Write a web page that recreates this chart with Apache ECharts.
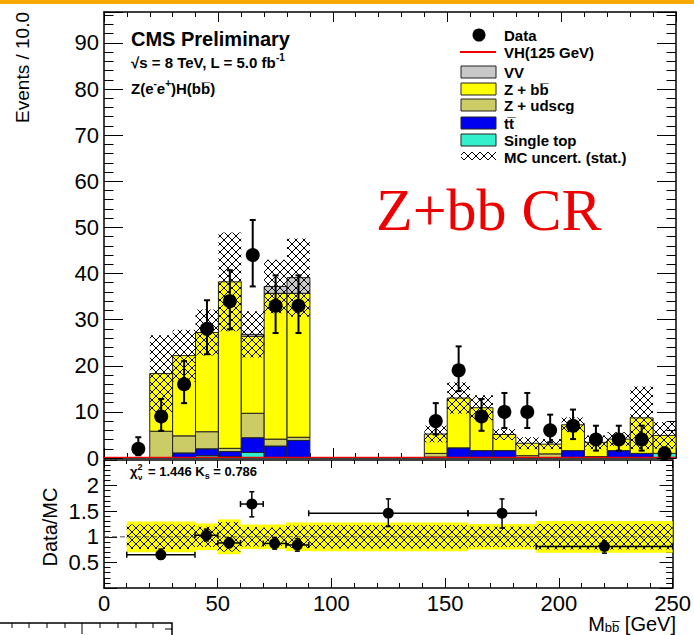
<!DOCTYPE html>
<html><head><meta charset="utf-8">
<script src="https://cdn.jsdelivr.net/npm/echarts@6/dist/echarts.min.js"></script>
<style>html,body{margin:0;padding:0;background:#fff}#c{width:694px;height:635px}</style>
</head><body><div id="c"></div>
<script>
// ---------------- DATA ----------------
const binWidth = 10;
const binLow    = [20, 30, 40, 50, 60, 70, 80, 140, 150, 160, 170, 180, 190, 200, 210, 220, 230, 240];
const singleTop = [0, 0, 0.5, 0.3, 1.2, 0, 0, 0, 0, 0, 0, 0, 0, 0, 0, 0, 0, 1.0];
const ttbar     = [0, 1.1, 1.5, 1.1, 3.2, 2.6, 3.8, 0.2, 2.2, 1.6, 1.6, 0.1, 0, 1.6, 0.1, 1.6, 1.0, 0];
const zudscg    = [5.8, 3.7, 3.7, 0.7, 5.3, 1.5, 0.7, 0.8, 0, 0, 0, 0.4, 0.9, 0, 0.2, 0, 0, 0];
const zbb       = [12.5, 17.4, 21.5, 36.1, 16.7, 31.6, 31.2, 4.2, 10.8, 9.3, 3.5, 2.7, 2.1, 5.6, 3.1, 2.5, 7.7, 3.9];
const vv        = [0, 0, 0, 0, 0.4, 1.5, 3.4, 0, 0, 0, 0, 0, 0, 0, 0, 0, 0, 0];
const mcStatErr = [8.3, 5.6, 5.0, 10.7, 5.0, 5.8, 8.5, 1.8, 3.4, 2.7, 1.2, 1.3, 1.1, 1.6, 1.5, 1.5, 6.8, 2.9];

const vhLow     = [0, 10, 20, 30, 40, 50, 60, 70, 80, 90, 100, 110, 120, 130, 140, 150, 160, 170, 180, 190, 200, 210, 220, 230, 240];
const vhSignal  = [0.05, 0.05, 0.05, 0.05, 0.05, 0.05, 0.05, 0.05, 0.05, 0.05, 0.05, 0.05, 0.05, 0.05, 0.05, 0.05, 0.05, 0.05, 0.05, 0.05, 0.05, 0.05, 0.05, 0.05, 0.05];

const dataX  = [15, 25, 35, 45, 55, 65, 75, 85, 145, 155, 165, 175, 185, 195, 205, 215, 225, 235, 245];
const dataY  = [2, 9, 16, 28, 34, 44, 33, 33, 8, 19, 9, 10, 10, 6, 7, 4, 4, 4, 1];
const dataLo = [0.6, 5.9, 11.9, 22.5, 27.9, 37.2, 27.1, 27.1, 5.1, 14.5, 5.9, 6.5, 6.5, 3.4, 4.1, 1.6, 1.6, 1.6, 0.2];
const dataHi = [4.5, 12.8, 21.0, 34.2, 40.7, 51.6, 39.6, 39.6, 11.9, 24.2, 12.8, 14.1, 14.1, 9.4, 10.5, 7.0, 7.0, 7.0, 2.3];

const ratioLow  = [10, 40, 50, 60, 70, 80, 90, 160, 190];
const ratioHigh = [40, 50, 60, 70, 80, 90, 160, 190, 250];
const ratioX    = [25, 45, 55, 65, 75, 85, 125, 175, 220];
const ratioY    = [0.65, 1.03, 0.88, 1.64, 0.87, 0.84, 1.46, 1.46, 0.81];
const ratioLo   = [0.56, 0.92, 0.79, 1.39, 0.76, 0.72, 1.20, 1.17, 0.68];
const ratioHi   = [0.76, 1.15, 0.98, 1.88, 0.98, 0.96, 1.74, 1.74, 0.92];
const bandTot   = [0.30, 0.26, 0.34, 0.24, 0.24, 0.28, 0.28, 0.25, 0.31];
const bandStat  = [0.24, 0.20, 0.29, 0.19, 0.18, 0.22, 0.23, 0.20, 0.25];

const yTicksMain  = [0, 10, 20, 30, 40, 50, 60, 70, 80, 90];
const yTicksRatio = [0.5, 1, 1.5, 2];

// ---------------- STYLE ----------------
const FONT = "'Liberation Sans', Arial, Helvetica, sans-serif";
const stackColors = ['#33f0cc', '#0000f0', '#cccc66', '#ffff00', '#c8c8c8'];

function makeHatch() {
  const c = document.createElement('canvas');
  c.width = 8; c.height = 8;
  const g = c.getContext('2d');
  g.strokeStyle = '#000'; g.lineWidth = 1;
  g.beginPath();
  g.moveTo(0, 0); g.lineTo(8, 8);
  g.moveTo(8, 0); g.lineTo(0, 8);
  g.stroke();
  return c;
}
const hatch = { image: makeHatch(), repeat: 'repeat', imageWidth: 8, imageHeight: 8 };

// ---------------- BUILD ----------------
const stackData = binLow.map((x0, i) => [x0, x0 + binWidth, singleTop[i], ttbar[i], zudscg[i], zbb[i], vv[i]]);
const totals = binLow.map((x0, i) => singleTop[i] + ttbar[i] + zudscg[i] + zbb[i] + vv[i]);
const hatchData = binLow.map((x0, i) => [x0, x0 + binWidth, totals[i] - mcStatErr[i], totals[i] + mcStatErr[i]]);
const vhData = vhLow.map((x0, i) => [x0, x0 + binWidth, vhSignal[i]]);
const errData = dataX.map((x, i) => [x, dataLo[i], dataHi[i]]);
const ptData = dataX.map((x, i) => [x, dataY[i]]);
const bandYData = ratioLow.map((x0, i) => [x0, ratioHigh[i], 1 - bandTot[i], 1 + bandTot[i]]);
const bandHData = ratioLow.map((x0, i) => [x0, ratioHigh[i], 1 - bandStat[i], 1 + bandStat[i]]);
const rErrData = ratioX.map((x, i) => [x, ratioY[i], ratioLow[i], ratioHigh[i], ratioLo[i], ratioHi[i]]);
const rPtData = ratioX.map((x, i) => [x, ratioY[i]]);

function renderStack(params, api) {
  const x0 = api.value(0), x1 = api.value(1);
  let base = 0; const children = [];
  for (let k = 0; k < 5; k++) {
    const v = api.value(2 + k);
    if (v <= 0) continue;
    const p0 = api.coord([x0, base]), p1 = api.coord([x1, base + v]);
    children.push({ type: 'rect', shape: { x: p0[0], y: p1[1], width: p1[0] - p0[0], height: p0[1] - p1[1] },
      style: { fill: stackColors[k], stroke: '#222', lineWidth: 1 } });
    base += v;
  }
  return { type: 'group', children };
}
function renderBox(fill, stroke) {
  return function (params, api) {
    const p0 = api.coord([api.value(0), api.value(2)]), p1 = api.coord([api.value(1), api.value(3)]);
    return { type: 'rect', shape: { x: p0[0], y: p1[1], width: p1[0] - p0[0], height: p0[1] - p1[1] },
      style: { fill: fill, stroke: stroke || null, lineWidth: 0 } };
  };
}
function renderVH(params, api) {
  const p0 = api.coord([api.value(0), api.value(2)]), p1 = api.coord([api.value(1), api.value(2)]);
  return { type: 'line', shape: { x1: p0[0], y1: p0[1], x2: p1[0], y2: p1[1] }, style: { stroke: '#ee0000', lineWidth: 2 } };
}
function renderErr(params, api) {
  const pl = api.coord([api.value(0), api.value(1)]), ph = api.coord([api.value(0), api.value(2)]);
  const st = { stroke: '#000', lineWidth: 2 };
  return { type: 'group', children: [
    { type: 'line', shape: { x1: pl[0], y1: pl[1], x2: ph[0], y2: ph[1] }, style: st },
    { type: 'line', shape: { x1: ph[0] - 3, y1: ph[1], x2: ph[0] + 3, y2: ph[1] }, style: st },
    { type: 'line', shape: { x1: pl[0] - 3, y1: pl[1], x2: pl[0] + 3, y2: pl[1] }, style: st }
  ] };
}
function renderRErr(params, api) {
  const x = api.value(0), y = api.value(1);
  const a = api.coord([api.value(2), y]), b = api.coord([api.value(3), y]);
  const l = api.coord([x, api.value(4)]), h = api.coord([x, api.value(5)]);
  const st = { stroke: '#000', lineWidth: 1.5 };
  return { type: 'group', children: [
    { type: 'line', shape: { x1: a[0], y1: a[1], x2: b[0], y2: b[1] }, style: st },
    { type: 'line', shape: { x1: a[0], y1: a[1] - 3, x2: a[0], y2: a[1] + 3 }, style: st },
    { type: 'line', shape: { x1: b[0], y1: b[1] - 3, x2: b[0], y2: b[1] + 3 }, style: st },
    { type: 'line', shape: { x1: l[0], y1: l[1], x2: h[0], y2: h[1] }, style: st },
    { type: 'line', shape: { x1: h[0] - 2.5, y1: h[1], x2: h[0] + 2.5, y2: h[1] }, style: st },
    { type: 'line', shape: { x1: l[0] - 2.5, y1: l[1], x2: l[0] + 2.5, y2: l[1] }, style: st }
  ] };
}
function renderOne(params, api) {
  const a = api.coord([0, 1]), b = api.coord([250, 1]);
  return { type: 'line', shape: { x1: a[0], y1: a[1], x2: b[0], y2: b[1] }, style: { stroke: '#555', lineWidth: 1, lineDash: [5, 3] } };
}

const axLine = { show: true, onZero: false, lineStyle: { color: '#000', width: 1.5 } };
function xAx(grid, pos, labels, tl) {
  return { gridIndex: grid, type: 'value', position: pos, min: 0, max: 250, interval: 50,
    axisLine: axLine, splitLine: { show: false },
    axisTick: { show: true, inside: true, length: tl, lineStyle: { color: '#000', width: 1 } },
    minorTick: { show: true, splitNumber: 5, length: tl / 2, lineStyle: { color: '#000', width: 1 } },
    axisLabel: { show: labels, color: '#000', fontSize: 22, lineHeight: 20, fontFamily: FONT, margin: 5 } };
}
function yAx(grid, pos, min, max, interval, labelSet, tl) {
  return { gridIndex: grid, type: 'value', position: pos, min, max, interval,
    axisLine: axLine, splitLine: { show: false },
    axisTick: { show: true, inside: true, length: tl, lineStyle: { color: '#000', width: 1 } },
    minorTick: { show: true, splitNumber: 5, length: tl / 2, lineStyle: { color: '#000', width: 1 } },
    axisLabel: { show: !!labelSet, color: '#000', fontSize: 22, fontFamily: FONT, margin: 5,
      showMinLabel: true, showMaxLabel: true,
      formatter: function (v) { return labelSet && labelSet.some(t => Math.abs(t - v) < 1e-6) ? String(v) : ''; } } };
}

function T(x, y, text, st, extra) {
  return Object.assign({ type: 'text', x, y, silent: true, z: 100,
    style: Object.assign({ text, fill: '#000', fontFamily: FONT, fontSize: 15, fontWeight: 'bold', align: 'left', verticalAlign: 'middle' }, st || {}) }, extra || {});
}
const B = 'b\u0305';
const legendBoxes = [
  { y: 72, fill: stackColors[4], label: 'VV' },
  { y: 89, fill: stackColors[3], label: 'Z + b' + B },
  { y: 105, fill: stackColors[2], label: 'Z + udscg' },
  { y: 123, fill: stackColors[1], label: 't' + 't\u0305' },
  { y: 140, fill: stackColors[0], label: 'Single top' }
];
const graphics = [
  { type: 'rect', shape: { x: 0, y: 0, width: 694, height: 4 }, style: { fill: '#f5a800' }, silent: true },
  // legend
  { type: 'circle', shape: { cx: 479, cy: 35, r: 6.5 }, style: { fill: '#000' }, z: 100 },
  T(504, 35, 'Data'),
  { type: 'line', shape: { x1: 460, y1: 52, x2: 496, y2: 52 }, style: { stroke: '#ee0000', lineWidth: 2 }, z: 100 },
  T(504, 52, 'VH(125 GeV)'),
  { type: 'rect', shape: { x: 461, y: 152, width: 35, height: 8 }, style: { fill: hatch }, z: 100 },
  T(504, 157, 'MC uncert. (stat.)'),
  // header
  T(131, 39, 'CMS Preliminary', { fontSize: 20 }),
  T(131, 62, '{a|√s = 8 TeV, L = 5.0 fb}{s|-1}', { rich: {
    a: { fontSize: 15, fontWeight: 'bold', fontFamily: FONT, lineHeight: 20 },
    s: { fontSize: 10, fontWeight: 'bold', fontFamily: FONT, lineHeight: 11, verticalAlign: 'top' } } }),
  T(131, 88, '{a|Z(e}{s|-}{a|e}{s|+}{a|)H(b}{a|' + B + '}{a|)}', { rich: {
    a: { fontSize: 15, fontWeight: 'bold', fontFamily: FONT, lineHeight: 20 },
    s: { fontSize: 10, fontWeight: 'bold', fontFamily: FONT, lineHeight: 11, verticalAlign: 'top' } } }),
  T(376, 210, 'Z+bb CR', { fontFamily: "'Liberation Serif', 'Times New Roman', serif", fontWeight: 'normal', fontSize: 60, fill: '#ee0000' }),
  // ratio text
  T(130, 471, '{a|χ}{s|2}', { rich: {
    a: { fontSize: 13, fontWeight: 'bold', fontFamily: FONT, lineHeight: 18 },
    s: { fontSize: 9, fontWeight: 'bold', fontFamily: FONT, lineHeight: 10, verticalAlign: 'top' } } }),
  T(138, 477, 'ν', { fontSize: 8 }),
  T(148, 471, '{a|= 1.446 K}{s|s}{a| = 0.786}', { rich: {
    a: { fontSize: 13, fontWeight: 'bold', fontFamily: FONT, lineHeight: 18 },
    s: { fontSize: 9, fontWeight: 'bold', fontFamily: FONT, lineHeight: 10, verticalAlign: 'bottom' } } }),
  // axis titles
  T(22, 12, 'Events / 10.0', { fontSize: 19, fontWeight: 'normal', align: 'right' }, { rotation: Math.PI / 2 }),
  T(50, 527, 'Data/MC', { fontSize: 20, fontWeight: 'normal', align: 'center' }, { rotation: Math.PI / 2 }),
  T(676, 624, '{a|M}{s|b' + B + '}{a| [GeV]}', { align: 'right', rich: {
    a: { fontSize: 20, fontFamily: FONT, lineHeight: 20 },
    s: { fontSize: 13, fontFamily: FONT, lineHeight: 10, verticalAlign: 'bottom' } } }),
  // cut-off ruler at bottom-left
  { type: 'polyline', shape: { points: [[0, 623], [172, 623], [172, 635]] }, style: { stroke: '#000', lineWidth: 1.5, fill: null }, silent: true }
];
legendBoxes.forEach(b => {
  graphics.push({ type: 'rect', shape: { x: 461, y: b.y - 6, width: 35, height: 12 }, style: { fill: b.fill, stroke: '#222', lineWidth: 1 }, z: 100 });
  graphics.push(T(504, b.y, b.label));
});
[12, 29, 47, 65, 100, 118, 136, 153].forEach(x => graphics.push({ type: 'line', shape: { x1: x, y1: 623, x2: x, y2: 628 }, style: { stroke: '#000', lineWidth: 1 }, silent: true }));
graphics.push({ type: 'line', shape: { x1: 82, y1: 623, x2: 82, y2: 634 }, style: { stroke: '#000', lineWidth: 1 }, silent: true });
graphics.push({ type: 'line', shape: { x1: 165, y1: 629, x2: 172, y2: 629 }, style: { stroke: '#000', lineWidth: 1 }, silent: true });

const option = {
  animation: false,
  backgroundColor: '#fff',
  textStyle: { fontFamily: FONT },
  grid: [
    { left: 104, right: 18, top: 12, height: 446 },
    { left: 104, right: 18, top: 460, height: 128 }
  ],
  xAxis: [xAx(0, 'bottom', false, 10), xAx(0, 'top', false, 10), xAx(1, 'bottom', true, 10), xAx(1, 'top', false, 8)],
  yAxis: [yAx(0, 'left', 0, 96.7, 10, yTicksMain, 19), yAx(0, 'right', 0, 96.7, 10, null, 19),
          yAx(1, 'left', 0, 2.5, 0.5, yTicksRatio, 13), yAx(1, 'right', 0, 2.5, 0.5, null, 13)],
  graphic: graphics,
  series: [
    { type: 'custom', name: 'stack', xAxisIndex: 0, yAxisIndex: 0, clip: true, z: 2, renderItem: renderStack, data: stackData },
    { type: 'custom', name: 'mcerr', xAxisIndex: 0, yAxisIndex: 0, clip: true, z: 3, renderItem: renderBox(hatch), data: hatchData },
    { type: 'custom', name: 'vh', xAxisIndex: 0, yAxisIndex: 0, clip: true, z: 4, renderItem: renderVH, data: vhData },
    { type: 'custom', name: 'derr', xAxisIndex: 0, yAxisIndex: 0, clip: true, z: 5, renderItem: renderErr, data: errData },
    { type: 'scatter', name: 'data', xAxisIndex: 0, yAxisIndex: 0, z: 6, symbol: 'circle', symbolSize: 14, itemStyle: { color: '#000', opacity: 1 }, data: ptData },
    { type: 'custom', name: 'bandY', xAxisIndex: 2, yAxisIndex: 2, clip: true, z: 2, renderItem: renderBox('#ffff00'), data: bandYData },
    { type: 'custom', name: 'bandH', xAxisIndex: 2, yAxisIndex: 2, clip: true, z: 3, renderItem: renderBox(hatch), data: bandHData },
    { type: 'custom', name: 'one', xAxisIndex: 2, yAxisIndex: 2, clip: true, z: 4, renderItem: renderOne, data: [[0, 1]] },
    { type: 'custom', name: 'rerr', xAxisIndex: 2, yAxisIndex: 2, clip: true, z: 5, renderItem: renderRErr, data: rErrData },
    { type: 'scatter', name: 'ratio', xAxisIndex: 2, yAxisIndex: 2, z: 6, symbol: 'circle', symbolSize: 11, itemStyle: { color: '#000', opacity: 1 }, data: rPtData }
  ]
};
const chart = echarts.init(document.getElementById('c'), null, { renderer: 'svg', width: 694, height: 635 });
chart.setOption(option);
</script>
</body></html>
